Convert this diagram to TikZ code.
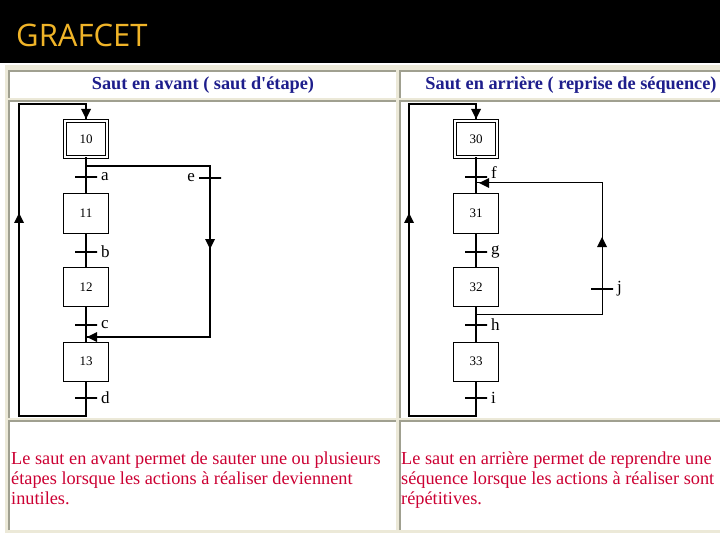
\documentclass[tikz,border=0pt]{standalone}
\usepackage{fontspec}
\setmainfont{Liberation Serif}
\newfontfamily\titlefont{Open Sans}
\usepackage{tikz}
\usetikzlibrary{arrows}

\definecolor{titlegold}{RGB}{240,180,40}
\definecolor{headblue}{RGB}{30,30,140}
\definecolor{textred}{RGB}{204,0,51}
\definecolor{tablecream}{RGB}{236,233,216}
\definecolor{cellgray}{RGB}{160,160,144}

\tikzset{
  etape/.style={draw, line width=1pt, minimum width=45pt, minimum height=39pt, inner sep=0pt, font=\fontsize{13}{13}\selectfont},
  initiale/.style={etape, double, double distance=2pt, minimum width=42pt, minimum height=36pt},
  trans/.style={draw, line width=1.2pt, minimum width=22pt, minimum height=0pt, inner sep=0pt, label distance=7pt},
  lettre/.style={font=\fontsize{17}{17}\selectfont},
  flow/.style={line width=1.5pt},
  cell/.style={fill=white},
  celledge/.style={draw=cellgray, line width=2pt},
  entete/.style={text=headblue, font=\bfseries\fontsize{18.3}{18.3}\selectfont},
  corps/.style={anchor=north west, inner sep=0pt, align=left, text=textred, font=\fontsize{18.3}{20}\selectfont},
}

\begin{document}
\begin{tikzpicture}[x=1pt,y=1pt,yscale=-1,xscale=1]
\useasboundingbox (0,0) rectangle (720,540);

% background and table
\fill[white] (0,0) rectangle (720,540);
\fill[black] (0,0) rectangle (720,63);
\fill[tablecream] (5,65) rectangle (720,533);
\foreach \xa/\xb in {8/396,399/720}{
  \foreach \ya/\yb in {70/98,100/418,420/530}{
    \fill[cell] (\xa,\ya) rectangle (\xb,\yb);
    \draw[celledge] (\xa+1,\yb) -- (\xa+1,\ya+1) -- (\xb,\ya+1);
  }
}

% Title
\node[anchor=west, inner sep=0pt, text=titlegold, font=\titlefont\fontsize{31}{32}\selectfont] (title) at (16,35) {GRAFCET};

% Headers
\node[entete] (headA) at (203,85) {Saut en avant ( saut d\textquotesingle étape)};
\node[entete] (headB) at (571,85) {Saut en arrière ( reprise de séquence)};

%%% Saut en avant
\node[initiale] (s10) at (86,139) {10};
\node[etape] (s11) at (86,213.5) {11};
\node[etape] (s12) at (86,287) {12};
\node[etape] (s13) at (86,361.5) {13};
\node[trans, label={[lettre]right:a}] (ta) at (86,177) {};
\node[trans, label={[lettre]right:b}] (tb) at (86,252) {};
\node[trans, label={[lettre]right:c}] (tc) at (86,325) {};
\node[trans, label={[lettre]right:d}] (td) at (86,398) {};
\node[trans, label={[lettre]left:e}] (te) at (210,178) {};

\coordinate (brA) at (86,166);
\coordinate (eA1) at (210,166);
\coordinate (eA2) at (210,337);
\coordinate (jA) at (86,337);
\coordinate (lA1) at (86,416);
\coordinate (lA2) at (19,416);
\coordinate (lA3) at (19,104);
\coordinate (lA4) at (86,104);

\draw[flow] (s10) -- (ta) -- (s11) -- (tb) -- (s12) -- (tc) -- (s13) -- (td) -- (lA1) -- (lA2) -- (lA3) -- (lA4) -- (s10);
\draw[flow] (brA) -- (eA1) -- (te) -- (eA2) -- (jA);

\fill [shift={(19,213)}, rotate=90] (10,-5) -- (0,0) -- (10,5) -- cycle;
\fill [shift={(86,119)}, rotate=270] (10,-5) -- (0,0) -- (10,5) -- cycle;
\fill [shift={(210,249)}, rotate=270] (10,-5) -- (0,0) -- (10,5) -- cycle;
\fill [shift={(87,337)}, rotate=0] (10,-5) -- (0,0) -- (10,5) -- cycle;

%%% Saut en arriere
\node[initiale] (s30) at (476,139) {30};
\node[etape] (s31) at (476,213.5) {31};
\node[etape] (s32) at (476,287) {32};
\node[etape] (s33) at (476,361.5) {33};
\node[trans, label={[lettre, yshift=4pt]right:f}] (tf) at (476,177) {};
\node[trans, label={[lettre]right:g}] (tg) at (476,252) {};
\node[trans, label={[lettre]right:h}] (th) at (476,325) {};
\node[trans, label={[lettre]right:i}] (ti) at (476,398) {};
\node[trans, label={[lettre]right:j}] (tj) at (602,289) {};

\coordinate (brB) at (476,314);
\coordinate (jB1) at (602,314);
\coordinate (jB2) at (602,183);
\coordinate (jB) at (476,183);
\coordinate (lB1) at (476,416);
\coordinate (lB2) at (409,416);
\coordinate (lB3) at (409,104);
\coordinate (lB4) at (476,104);

\draw[flow] (s30) -- (tf) -- (s31) -- (tg) -- (s32) -- (th) -- (s33) -- (ti) -- (lB1) -- (lB2) -- (lB3) -- (lB4) -- (s30);
\draw[line width=1pt] (brB) -- (jB1) -- (tj) -- (jB2) -- (jB);

\fill [shift={(409,213)}, rotate=90] (10,-5) -- (0,0) -- (10,5) -- cycle;
\fill [shift={(476,119)}, rotate=270] (10,-5) -- (0,0) -- (10,5) -- cycle;
\fill [shift={(602,237)}, rotate=90] (10,-5) -- (0,0) -- (10,5) -- cycle;
\fill [shift={(479,183)}, rotate=0] (10,-5) -- (0,0) -- (10,5) -- cycle;

% Texts
\node[corps] (txtA) at (11,452)
  {Le saut en avant permet de sauter une ou plusieurs\\étapes lorsque les actions à réaliser deviennent\\inutiles.};
\node[corps] (txtB) at (401,452)
  {Le saut en arrière permet de reprendre une\\séquence lorsque les actions à réaliser sont\\répétitives.};

\end{tikzpicture}
\end{document}
